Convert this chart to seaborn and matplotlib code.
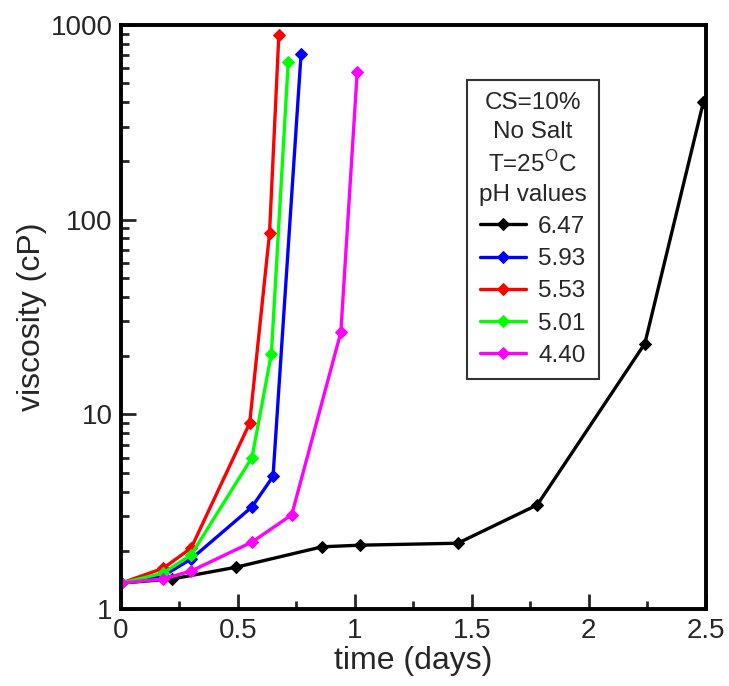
import matplotlib
matplotlib.use("Agg")
import matplotlib.pyplot as plt
import seaborn as sns
import pandas as pd
from matplotlib.ticker import FixedLocator, FixedFormatter, LogLocator, NullFormatter

sns.set_style("ticks")
plt.rcParams['font.family'] = ['Liberation Sans', 'DejaVu Sans']
plt.rcParams['mathtext.fontset'] = 'custom'
plt.rcParams['mathtext.rm'] = 'Liberation Sans'

# ---- data ----
ph_labels = ["6.47", "5.93", "5.53", "5.01", "4.40"]
colors = ["#000000", "#0000ff", "#ff0000", "#00ff00", "#ff00ff"]

t_647 = [0, 0.22, 0.49, 0.86, 1.02, 1.44, 1.78, 2.24, 2.49]
v_647 = [1.36, 1.43, 1.64, 2.09, 2.13, 2.18, 3.43, 23.1, 400]

t_593 = [0, 0.18, 0.30, 0.56, 0.65, 0.77]
v_593 = [1.36, 1.48, 1.81, 3.35, 4.8, 710]

t_553 = [0, 0.18, 0.30, 0.55, 0.635, 0.675]
v_553 = [1.36, 1.62, 2.06, 9.0, 85, 890]

t_501 = [0, 0.18, 0.30, 0.56, 0.643, 0.715]
v_501 = [1.36, 1.53, 1.9, 6.0, 20.5, 646]

t_440 = [0, 0.18, 0.30, 0.56, 0.73, 0.94, 1.01]
v_440 = [1.36, 1.43, 1.57, 2.21, 3.05, 26.4, 574]

times = [t_647, t_593, t_553, t_501, t_440]
viscs = [v_647, v_593, v_553, v_501, v_440]

xticks = [0, 0.5, 1, 1.5, 2, 2.5]
xticklabels = ["0", "0.5", "1", "1.5", "2", "2.5"]
yticks = [1, 10, 100, 1000]
yticklabels = ["1", "10", "100", "1000"]

# ---- plot ----
fig = plt.figure(figsize=(7.29, 6.86), dpi=100)
ax = fig.add_axes([0.166, 0.112, 0.802, 0.852])

for lab, col, t, v in zip(ph_labels, colors, times, viscs):
    df = pd.DataFrame({"time": t, "visc": v})
    sns.lineplot(data=df, x="time", y="visc", ax=ax, color=col, lw=2.4,
                 marker="D", markersize=6, markeredgecolor=col,
                 sort=False, estimator=None, label=lab)

ax.set_yscale("log")
ax.set_xlim(0, 2.5)
ax.set_ylim(1, 1000)

ax.xaxis.set_major_locator(FixedLocator(xticks))
ax.xaxis.set_major_formatter(FixedFormatter(xticklabels))
ax.xaxis.set_minor_locator(FixedLocator([0.25, 0.75, 1.25, 1.75, 2.25]))
ax.yaxis.set_major_locator(FixedLocator(yticks))
ax.yaxis.set_major_formatter(FixedFormatter(yticklabels))
ax.yaxis.set_minor_locator(LogLocator(base=10, subs=range(2, 10)))
ax.yaxis.set_minor_formatter(NullFormatter())

ax.tick_params(which="major", direction="in", length=11, width=2, labelsize=20,
               top=False, right=False, pad=6)
ax.tick_params(which="minor", direction="in", length=6, width=2,
               top=False, right=False)

for s in ax.spines.values():
    s.set_linewidth(2.8)
    s.set_color("black")

ax.set_xlabel("time (days)", fontsize=23, labelpad=2)
ax.set_ylabel("viscosity (cP)", fontsize=23, labelpad=3)

leg = ax.legend(title="CS=10%\nNo Salt\nT=25$^{\\mathrm{O}}$C\npH values",
                loc="upper left", bbox_to_anchor=(0.591, 0.906),
                borderaxespad=0, fontsize=17.5, title_fontsize=17.5,
                frameon=True, fancybox=False, edgecolor="black",
                handlelength=1.9, handletextpad=0.5, labelspacing=0.42,
                borderpad=0.5)
leg.get_frame().set_linewidth(1.5)
leg.get_title().set_multialignment("center")
leg.get_title().set_linespacing(1.4)

fig.savefig("out.png", dpi=100, facecolor="white")
